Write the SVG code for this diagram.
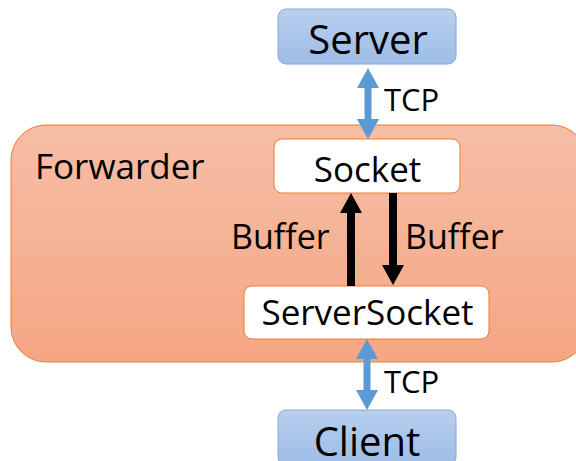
<svg xmlns="http://www.w3.org/2000/svg" width="576" height="461" viewBox="0 0 576 461">
  <defs>
    <linearGradient id="blueFill" x1="0" y1="0" x2="0" y2="1">
      <stop offset="0" stop-color="#b9cfee"/>
      <stop offset="1" stop-color="#9dbce6"/>
    </linearGradient>
    <linearGradient id="orangeFill" x1="0" y1="0" x2="0" y2="1">
      <stop offset="0" stop-color="#f6bea6"/>
      <stop offset="1" stop-color="#f5a684"/>
    </linearGradient>
    <style>
      text { font-family: "Open Sans", "Noto Sans", "DejaVu Sans", sans-serif; fill: #000; }
      .endpoint { fill: url(#blueFill); stroke: #86a9dc; stroke-width: 1; }
      .inner { fill: #ffffff; stroke: #ed7d31; stroke-width: 1; }
      .tcp { fill: #5b9bd5; }
      .flow { fill: #000000; }
      .big { font-size: 40px; }
      .mid { font-size: 35px; }
      .lbl { font-size: 34px; }
      .small { font-size: 31px; }
    </style>
  </defs>

  <!-- forwarder container -->
  <g id="forwarder">
    <rect x="11" y="125" width="576" height="237" rx="35" fill="url(#orangeFill)" stroke="#ed7d31" stroke-width="1"/>
    <text x="35" y="179" class="mid">Forwarder</text>
  </g>

  <g id="server">
    <rect class="endpoint" x="278" y="9" width="178" height="55" rx="8"/>
    <text x="368" y="54" class="big" text-anchor="middle">Server</text>
  </g>

  <g id="socket">
    <rect class="inner" x="274" y="139" width="186" height="54" rx="8"/>
    <text x="367.5" y="182" class="mid" text-anchor="middle">Socket</text>
  </g>

  <g id="serversocket">
    <rect class="inner" x="244" y="286" width="245" height="53" rx="8"/>
    <text x="367.5" y="325" class="mid" text-anchor="middle">ServerSocket</text>
  </g>

  <g id="client">
    <rect class="endpoint" x="278" y="410" width="178" height="55" rx="8"/>
    <text x="367" y="456" class="big" text-anchor="middle">Client</text>
  </g>

  <!-- connectors -->
  <g id="connectors">
    <!-- Server <-> Socket -->
    <polygon class="tcp" points="368,68 379,88 371.5,88 371.5,119 379,119 368,139 357,119 364.5,119 364.5,88 357,88"/>
    <text x="384" y="111" class="small">TCP</text>
    <!-- ServerSocket -> Socket -->
    <polygon class="flow" points="351,193 362,213 355,213 355,286 347,286 347,213 340,213"/>
    <text x="231" y="249" class="lbl">Buffer</text>
    <!-- Socket -> ServerSocket -->
    <polygon class="flow" points="393,285 404,265 397,265 397,193 389,193 389,265 382,265"/>
    <text x="405" y="249" class="lbl">Buffer</text>
    <!-- ServerSocket <-> Client -->
    <polygon class="tcp" points="367,339 378,359 370.5,359 370.5,390 378,390 367,410 356,390 363.5,390 363.5,359 356,359"/>
    <text x="384" y="393" class="small">TCP</text>
  </g>
</svg>
